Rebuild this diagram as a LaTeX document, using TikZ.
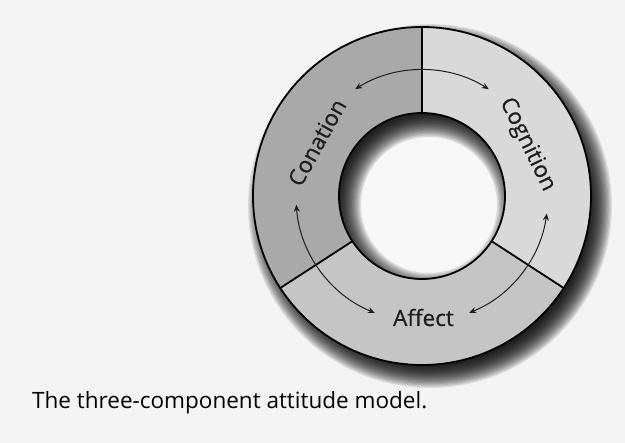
\documentclass[tikz,border=0pt]{standalone}
\usepackage{fontspec}
\setmainfont{Open Sans}
\newfontfamily\labelfont{Open Sans}[FakeBold=0.6]
\usetikzlibrary{arrows.meta}
\definecolor{paper}{HTML}{F4F4F4}
\definecolor{conation}{HTML}{A9A9A9}
\definecolor{cognition}{HTML}{D9D9D9}
\definecolor{affect}{HTML}{C5C5C5}
\definecolor{ink}{HTML}{1E1E1E}
\tikzset{
  outline/.style={draw=black, line width=1.8pt},
  cyclearrow/.style={draw=ink, line width=1pt,
    {Stealth[length=7pt,width=6pt]}-{Stealth[length=7pt,width=6pt]}},
  ringlabel/.style={font=\labelfont\fontsize{22.5}{22.5}\selectfont, text=ink, inner sep=0pt},
}
\begin{document}
\begin{tikzpicture}[x=1pt,y=1pt]
\def\Ro{169}
\def\Ri{83}
\def\Ra{126}
% page
\fill[paper] (-422,-247) rectangle (203,196);
\useasboundingbox (-422,-247) rectangle (203,196);

% soft drop shadow behind the ring
\foreach \k in {0,...,19}
  \fill[black, opacity=0.09] (8,-10) circle ({\Ro+13-\k*1.2});

% the three sectors
\fill[conation] (90:\Ro) arc[start angle=90, end angle=213, radius=\Ro]
  -- (213:\Ri) arc[start angle=213, end angle=90, radius=\Ri] -- cycle;
\fill[cognition] (-33:\Ro) arc[start angle=-33, end angle=90, radius=\Ro]
  -- (90:\Ri) arc[start angle=90, end angle=-33, radius=\Ri] -- cycle;
\fill[affect] (213:\Ro) arc[start angle=213, end angle=327, radius=\Ro]
  -- (327:\Ri) arc[start angle=327, end angle=213, radius=\Ri] -- cycle;

% the hole, with the shadow the ring casts into it
\fill[paper!60!white] (0,0) circle (\Ri);
\begin{scope}
  \clip (0,0) circle (\Ri);
  \foreach \k in {0,...,15}
    \fill[black, opacity=0.11, even odd rule]
      (0,0) circle (\Ri+5) (7,-9) circle ({\Ri-15+\k*1.5});
\end{scope}

% outlines and dividers
\draw[outline] (0,0) circle (\Ro);
\draw[outline] (0,0) circle (\Ri);
\draw[outline] (90:\Ri) -- (90:\Ro);
\draw[outline] (213:\Ri) -- (213:\Ro);
\draw[outline] (327:\Ri) -- (327:\Ro);

% two-way influences between the components
\draw[cyclearrow] (122:\Ra) arc[start angle=122, end angle=58, radius=\Ra];
\draw[cyclearrow] (184:\Ra) arc[start angle=184, end angle=248, radius=\Ra];
\draw[cyclearrow] (352:\Ra) arc[start angle=352, end angle=292, radius=\Ra];

% component names
\node[ringlabel, rotate=61] (conation) at (153:118) {Conation};
\node[ringlabel, rotate=-64] (cognition) at (26:117) {Cognition};
\node[ringlabel, anchor=base] (affect) at (1.5,-130) {Affect};

% caption
\node[anchor=base west, inner sep=0pt, text=black,
  font=\fontsize{22.5}{22.5}\selectfont] (caption) at (-390,-213)
  {The three-component attitude model.};
\end{tikzpicture}
\end{document}
